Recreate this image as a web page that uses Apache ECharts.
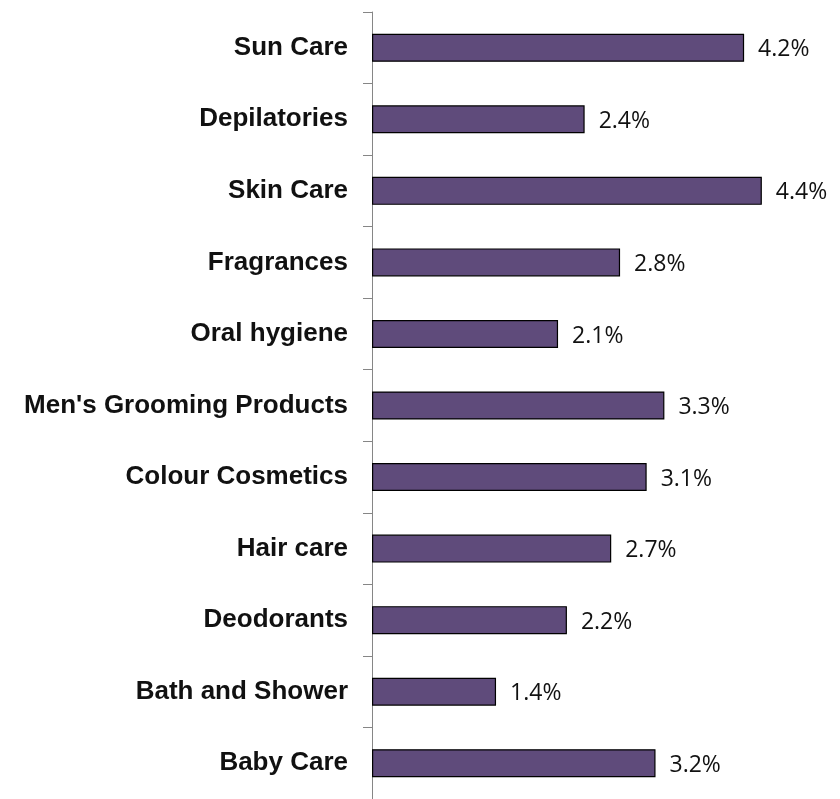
<!DOCTYPE html>
<html>
<head>
<meta charset="utf-8">
<script src="https://cdn.jsdelivr.net/npm/echarts@6/dist/echarts.min.js"></script>
<style>
  html, body { margin: 0; padding: 0; background: #fff; }
  #chart { width: 840px; height: 799px; }
</style>
</head>
<body>
<div id="chart"></div>
<script>
// Growth by beauty & personal care category (top to bottom)
const categories = [
  'Sun Care',
  'Depilatories',
  'Skin Care',
  'Fragrances',
  'Oral hygiene',
  "Men's Grooming Products",
  'Colour Cosmetics',
  'Hair care',
  'Deodorants',
  'Bath and Shower',
  'Baby Care'
];
const growth = [4.2, 2.4, 4.4, 2.8, 2.1, 3.3, 3.1, 2.7, 2.2, 1.4, 3.2];

const chart = echarts.init(document.getElementById('chart'), null, { renderer: 'canvas' });

chart.setOption({
  animation: false,
  backgroundColor: '#ffffff',
  grid: { left: 372, top: 12, width: 443, height: 789, containLabel: false },
  xAxis: {
    type: 'value',
    min: 0,
    max: 5,
    show: false
  },
  yAxis: {
    type: 'category',
    data: categories,
    inverse: true,
    boundaryGap: true,
    axisLine: { show: true, lineStyle: { color: '#868686', width: 1 } },
    axisTick: { show: true, inside: false, length: 9, lineStyle: { color: '#868686', width: 1 } },
    axisLabel: {
      margin: 24,
      color: '#111111',
      fontFamily: '"Liberation Sans", Arial, sans-serif',
      fontWeight: 'bold',
      fontSize: 26
    },
    splitLine: { show: false }
  },
  series: [{
    type: 'bar',
    data: growth,
    barWidth: 28,
    itemStyle: { color: '#5f4b7b', borderColor: '#000000', borderWidth: 1.2 },
    label: {
      show: true,
      position: 'right',
      distance: 14,
      color: '#111111',
      fontFamily: '"Open Sans", sans-serif',
      fontSize: 23,
      offset: [0, 2],
      formatter: p => p.value.toFixed(1) + '%'
    }
  }]
});
</script>
</body>
</html>
